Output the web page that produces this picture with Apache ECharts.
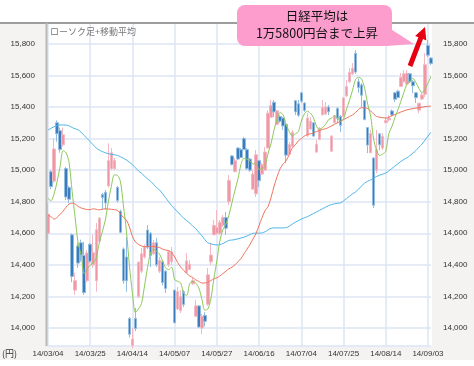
<!DOCTYPE html>
<html><head><meta charset="utf-8">
<script src="https://cdn.jsdelivr.net/npm/echarts@6/dist/echarts.min.js"></script>
<style>html,body{margin:0;padding:0;background:#fff}#c{width:474px;height:366px}</style>
</head><body><div id="c"></div>
<script>
const dates = ['14/03/04','14/03/05','14/03/06','14/03/07','14/03/10','14/03/11','14/03/12','14/03/13','14/03/14','14/03/17','14/03/18','14/03/19','14/03/20','14/03/24','14/03/25','14/03/26','14/03/27','14/03/28','14/03/31',
'14/04/01','14/04/02','14/04/03','14/04/04','14/04/07','14/04/08','14/04/09','14/04/10','14/04/11','14/04/14','14/04/15','14/04/16','14/04/17','14/04/18','14/04/21','14/04/22','14/04/23','14/04/24','14/04/25','14/04/28','14/04/30',
'14/05/01','14/05/02','14/05/07','14/05/08','14/05/09','14/05/12','14/05/13','14/05/14','14/05/15','14/05/16','14/05/19','14/05/20','14/05/21','14/05/22','14/05/23','14/05/26','14/05/27','14/05/28','14/05/29','14/05/30',
'14/06/02','14/06/03','14/06/04','14/06/05','14/06/06','14/06/09','14/06/10','14/06/11','14/06/12','14/06/13','14/06/16','14/06/17','14/06/18','14/06/19','14/06/20','14/06/23','14/06/24','14/06/25','14/06/26','14/06/27','14/06/30',
'14/07/01','14/07/02','14/07/03','14/07/04','14/07/07','14/07/08','14/07/09','14/07/10','14/07/11','14/07/14','14/07/15','14/07/16','14/07/17','14/07/18','14/07/22','14/07/23','14/07/24','14/07/25','14/07/28','14/07/29','14/07/30','14/07/31',
'14/08/01','14/08/04','14/08/05','14/08/06','14/08/07','14/08/08','14/08/11','14/08/12','14/08/13','14/08/14','14/08/15','14/08/18','14/08/19','14/08/20','14/08/21','14/08/22','14/08/25','14/08/26','14/08/27','14/08/28','14/08/29',
'14/09/01','14/09/02','14/09/03','14/09/04'];

const opens = [14600,14990,14930,15300,15250,15160,15010,14890,14590,14240,14520,14540,14460,14300,14530,14400,14300,14550,14845,
14860,14900,15010,15010,14890,14740,14500,14450,14060,13890,14060,14200,14360,14450,14620,14600,14470,14540,14360,14420,14360,
14400,14420,14240,14120,14110,14230,14350,14370,14280,14075,14140,14000,14080,14150,14420,14590,14600,14600,14650,14700,
14800,15090,14990,15140,15130,15200,15130,15070,14880,14850,15060,14975,15000,15140,15335,15430,15290,15340,15330,15290,15100,
15150,15440,15420,15490,15425,15220,15260,15300,15115,15195,15350,15355,15400,15120,15300,15390,15340,15340,15470,15560,15610,15740,
15560,15540,15440,15270,15110,15077,15000,15230,15140,15300,15318,15375,15490,15500,15530,15560,15545,15610,15560,15490,15380,
15450,15480,15790,15710];

const closes = [14721,14897,15134,15230,15130,15224,14830,14816,14327,14300,14411,14462,14224,14475,14423,14477,14622,14696,14827,
14792,15060,15110,15063,14808,14606,14299,14300,13960,13930,13997,14417,14470,14516,14512,14460,14540,14400,14429,14288,14250,
14485,14480,14033,14230,14199,14149,14425,14405,14300,14140,14006,14075,14042,14337,14462,14650,14636,14670,14700,14632,
14935,15035,15060,15070,15080,15130,15010,15000,14975,15097,14933,15035,15115,15361,15410,15369,15376,15310,15280,15095,15162,
15240,15369,15348,15437,15379,15330,15310,15216,15164,15265,15395,15400,15370,15215,15343,15328,15284,15457,15529,15620,15646,15621,
15523,15474,15320,15159,15232,14778,15130,15161,15213,15314,15330,15350,15449,15460,15586,15610,15613,15560,15534,15459,15424,
15476,15668,15728,15676];

const lows = [14560,14880,14920,15180,15110,15150,14810,14790,14290,14210,14380,14420,14210,14290,14410,14380,14230,14538,14750,
14750,14890,15000,15000,14795,14600,14280,14230,13940,13870,13980,14190,14348,14440,14500,14386,14462,14386,14348,14270,14222,
14386,14399,14032,14114,14095,14133,14348,14367,14272,14070,14000,13960,14010,14140,14400,14589,14589,14589,14640,14589,
14779,15030,14988,15064,15077,15127,15000,14988,14874,14830,14893,14969,15000,15140,15330,15336,15286,15300,15254,15045,15096,
15146,15349,15336,15425,15368,15210,15254,15210,15108,15190,15349,15349,15349,15115,15298,15298,15241,15336,15463,15551,15602,15610,
15490,15400,15317,15108,15108,14760,14981,15127,15127,15298,15310,15340,15431,15455,15526,15555,15539,15551,15488,15425,15361,
15443,15463,15716,15665];

const highs = [14790,15000,15200,15315,15270,15270,15020,14900,14600,14350,14540,14560,14545,14494,14540,14590,14665,14703,14855,
14875,15170,15140,15077,14900,14750,14510,14576,14070,14000,14127,14420,14507,14530,14652,14608,14557,14570,14450,14430,14367,
14494,14513,14241,14260,14241,14241,14475,14430,14317,14177,14145,14090,14100,14380,14540,14684,14747,14684,14716,14735,
14969,15096,15077,15146,15140,15210,15140,15077,15000,15127,15064,15045,15146,15380,15444,15444,15380,15349,15336,15298,15178,
15254,15444,15444,15494,15431,15361,15336,15304,15190,15273,15444,15431,15412,15222,15349,15400,15349,15463,15570,15646,15678,15760,
15580,15551,15444,15273,15254,15080,15254,15235,15235,15336,15349,15385,15495,15510,15615,15634,15634,15615,15570,15494,15425,
15494,15741,15824,15716];

const ma5 = [14821,14807,14849,14927,15022,15123,15110,15046,14865,14699,14537,14463,14345,14374,14399,14412,14444,14539,14609,
14683,14799,14897,14970,14967,14929,14777,14615,14395,14219,14097,14121,14155,14266,14382,14475,14500,14486,14468,14423,14381,
14370,14386,14307,14296,14285,14218,14207,14282,14296,14284,14255,14185,14113,14120,14184,14313,14425,14551,14624,14658,
14715,14794,14872,14946,15036,15075,15070,15058,15039,15042,15003,15008,15031,15108,15171,15258,15326,15365,15349,15286,15245,
15217,15229,15243,15311,15355,15373,15361,15334,15280,15257,15270,15288,15319,15329,15345,15331,15308,15325,15388,15444,15507,15575,
15588,15577,15517,15419,15342,15193,15124,15092,15103,15119,15230,15274,15331,15381,15435,15491,15544,15566,15581,15555,15518,
15491,15512,15551,15594];

const ma25 = [14716,14705,14690,14700,14720,14740,14765,14785,14791,14785,14770,14760,14755,14750,14750,14755,14752,14748,14752,
14755,14754,14752,14750,14745,14725,14700,14684,14640,14580,14545,14530,14520,14515,14515,14518,14515,14513,14510,14500,14494,
14490,14480,14450,14415,14386,14365,14345,14330,14320,14305,14295,14285,14285,14290,14300,14312,14318,14330,14345,14360,
14375,14385,14400,14420,14440,14470,14500,14530,14565,14600,14650,14700,14745,14770,14830,14900,14960,15010,15040,15060,15100,
15140,15160,15185,15200,15215,15225,15230,15235,15245,15250,15258,15262,15270,15280,15290,15300,15310,15320,15330,15340,15350,15365,
15385,15395,15395,15390,15375,15355,15340,15335,15332,15330,15335,15345,15352,15360,15368,15375,15382,15386,15390,15393,15395,
15398,15402,15404,15406];

const ma75 = [15254,15265,15275,15282,15286,15286,15285,15280,15270,15262,15255,15240,15220,15200,15180,15160,15140,15127,15118,
15110,15104,15100,15097,15094,15085,15075,15064,15050,15035,15015,14995,14980,14962,14945,14930,14910,14890,14874,14850,14825,
14800,14775,14755,14735,14715,14695,14680,14665,14645,14630,14605,14585,14560,14540,14533,14528,14526,14528,14535,14545,
14555,14557,14560,14565,14570,14575,14583,14592,14600,14601,14601,14602,14610,14622,14632,14634,14634,14634,14634,14636,14645,
14658,14670,14680,14690,14698,14705,14715,14725,14735,14745,14755,14765,14775,14782,14787,14790,14792,14805,14820,14835,14850,14862,
14880,14900,14918,14930,14938,14950,14960,14968,14975,14982,14995,15010,15025,15040,15055,15068,15078,15092,15108,15125,15145,
15165,15190,15215,15241];

const candles = dates.map((d, i) => [opens[i], closes[i], lows[i], highs[i]]);

const chart = echarts.init(document.getElementById('c'), null, {renderer: 'canvas'});
const numFont = "'Liberation Sans', Arial, sans-serif";
const jpFont = "'Noto Sans CJK JP', sans-serif";
const gridColor = '#dce5f4';
const yBase = {
  type: 'value', min: 13886, max: 15932, splitNumber: 10, scale: true,
  axisLine: {show: false}, axisTick: {show: false},
  axisLabel: {fontSize: 8, color: '#333', fontFamily: numFont, showMinLabel: false, showMaxLabel: false,
    formatter: v => Math.round(v).toLocaleString('en-US')}
};
chart.setOption({
  animation: false,
  backgroundColor: '#fff',
  grid: {left: 48, right: 43, top: 23, bottom: 20, show: false},
  xAxis: {
    type: 'category', data: dates, boundaryGap: false,
    axisLine: {show: false}, axisTick: {show: false},
    axisLabel: {interval: 13, fontSize: 8, color: '#333', fontFamily: numFont, margin: 4},
    splitLine: {show: true, interval: 13, lineStyle: {color: gridColor, width: 1.5}}
  },
  yAxis: [
    Object.assign({}, yBase, {position: 'left', axisLabel: Object.assign({}, yBase.axisLabel, {margin: 13}),
      splitLine: {show: true, lineStyle: {color: gridColor, width: 1.5}}}),
    Object.assign({}, yBase, {position: 'right', axisLabel: Object.assign({}, yBase.axisLabel, {margin: 12}),
      splitLine: {show: false}})
  ],
  graphic: [
    {type: 'rect', z: -10, shape: {x: 0, y: 23, width: 474, height: 337}, style: {fill: '#f4f3f1'}, silent: true},
    {type: 'rect', z: -9, shape: {x: 46, y: 23, width: 386, height: 323}, style: {fill: '#ffffff'}, silent: true},
    {type: 'line', z: 50, shape: {x1: 0, y1: 23, x2: 474, y2: 23}, style: {stroke: '#9d9d9d', lineWidth: 2}},
    {type: 'line', z: 50, shape: {x1: 46.5, y1: 23, x2: 46.5, y2: 346}, style: {stroke: '#b8b8b8', lineWidth: 2}},
    {type: 'text', z: 50, x: 50, y: 27, style: {text: 'ローソク足+移動平均', font: "9px " + jpFont, fill: '#777'}},
    {type: 'text', z: 50, x: 2, y: 349, style: {text: '(円)', font: "9px " + jpFont, fill: '#333'}},
    {type: 'polygon', z: 60, shape: {points: [[386, 26], [386, 46], [414, 44]]}, style: {fill: '#fc9dcd'}},
    {type: 'rect', z: 60, shape: {x: 237, y: 5, width: 155, height: 41, r: 8}, style: {fill: '#fc9dcd'}},
    {type: 'text', z: 61, x: 317, y: 25, style: {text: '日経平均は\n1万5800円台まで上昇', font: "12.5px " + jpFont,
      fill: '#111', align: 'center', verticalAlign: 'middle', lineHeight: 17}},
    {type: 'polygon', z: 62, shape: {points: [[407.7, 65.1], [418.4, 37.3], [415.1, 36.0], [425, 27], [426.3, 40.4], [423.0, 39.1], [412.3, 66.9]]},
      style: {fill: '#e60012'}}
  ],
  series: [
    {type: 'candlestick', data: candles, barWidth: 3, clip: false, z: 2,
      itemStyle: {color: '#ee98a6', color0: '#3b7cbc', borderColor: '#f3b8c1', borderColor0: '#93bde0', borderWidth: 1}},
    {type: 'line', data: ma75, symbol: 'none', smooth: 0.3, z: 3, lineStyle: {color: '#4db6e8', width: 1}},
    {type: 'line', data: ma25, symbol: 'none', smooth: 0.3, z: 3, lineStyle: {color: '#f0735a', width: 1}},
    {type: 'line', data: ma5, symbol: 'none', smooth: 0.3, z: 3, lineStyle: {color: '#8dc85a', width: 1}}
  ]
});
</script></body></html>
